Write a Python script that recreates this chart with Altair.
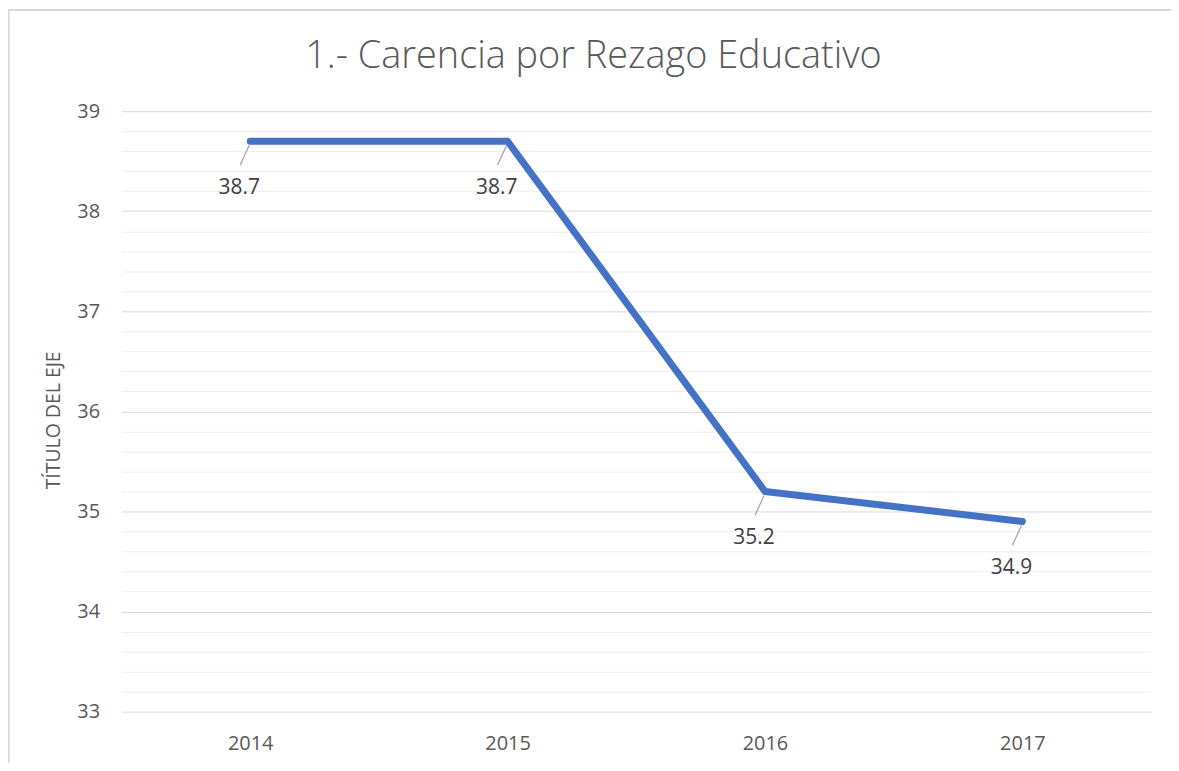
import altair as alt
import pandas as pd

chart_title = "1.- Carencia por Rezago Educativo"
years = ["2014", "2015", "2016", "2017"]
values = [38.7, 38.7, 35.2, 34.9]
y_ticks = [round(33 + 0.2 * i, 1) for i in range(31)]

df = pd.DataFrame({"year": years, "value": values})

W, H = 1034, 603
FONT = "Open Sans"

x_enc = alt.X("year:N", sort=years,
              scale=alt.Scale(type="point", padding=0.5),
              axis=alt.Axis(title=None, labelAngle=0, ticks=False, domain=False,
                            labelFontSize=20, labelColor="#595959", labelFont=FONT,
                            labelPadding=22, grid=False))
is_major = "abs(datum.value - round(datum.value)) < 0.001"
y_enc = alt.Y("value:Q", scale=alt.Scale(domain=[33, 39], nice=False, zero=False),
              axis=alt.Axis(title="TÍTULO DEL EJE", values=y_ticks, tickCount=100,
                            ticks=False, domain=False,
                            labelExpr=is_major + " ? format(datum.value, 'd') : ''",
                            labelOverlap=False, labelFlush=False,
                            labelFontSize=20, labelColor="#595959", labelFont=FONT,
                            labelPadding=22,
                            titleFontSize=19.5, titleColor="#595959", titleFont=FONT,
                            titleFontWeight="normal", titlePadding=13, titleY=310,
                            grid=True,
                            gridColor={"condition": {"test": is_major, "value": "#d9d9d9"},
                                       "value": "#eeeeee"},
                            gridWidth=1))

base = alt.Chart(df)

border = base.mark_rect(fill=None, stroke="#d9d9d9", strokeWidth=1.5).encode(
    x=alt.value(-113.5), y=alt.value(-101.5), x2=alt.value(1200), y2=alt.value(800)
)

title = alt.Chart(pd.DataFrame({"t": [chart_title]})).mark_text(
    font=FONT, fontSize=38, fontWeight=300, color="#595959", align="center",
    baseline="alphabetic"
).encode(text="t:N", x=alt.value(474), y=alt.value(-43))

line = base.mark_line(color="#4472C4", strokeWidth=7, strokeCap="round", strokeJoin="round").encode(
    x=x_enc, y=y_enc
)

leaders = base.mark_rule(color="#a6a6a6", strokeWidth=1.3,
                         xOffset=-1, yOffset=4, x2Offset=-10, y2Offset=24).encode(
    x=alt.X("year:N", sort=years), x2=alt.X2("year:N"),
    y="value:Q", y2=alt.Y2("value:Q")
)

labels = base.mark_text(font=FONT, fontSize=21, color="#404040", dx=-11, dy=47,
                        baseline="middle", align="center").encode(
    x=alt.X("year:N", sort=years), y="value:Q", text=alt.Text("value:Q", format=".1f")
)

chart = alt.layer(border, line, leaders, labels, title).properties(
    width=W, height=H,
    autosize=alt.AutoSizeParams(type="none"),
    padding={"left": 114, "top": 102, "right": 20, "bottom": 50},
).configure_view(stroke=None)

chart.save("out.html", embed_options={"renderer": "svg", "actions": False})
